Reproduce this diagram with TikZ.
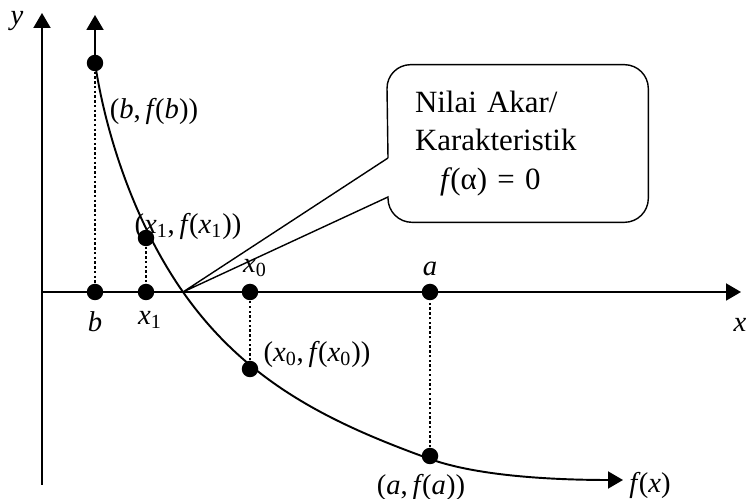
\documentclass[tikz,border=0pt]{standalone}
\usepackage{fontspec}
\setmainfont{Liberation Serif}
\usetikzlibrary{arrows.meta,positioning}

\newcommand{\vr}[1]{\textit{#1}}
\newcommand{\vsub}[2]{\textit{#1}\textsubscript{#2}}
\newcommand{\fof}[1]{\textit{f}\kern-0.06em(#1)}

\begin{document}
\begin{tikzpicture}[x=0.02cm, y=-0.02cm,
    axis/.style={line width=1.1pt, -{Triangle[length=3mm,width=3.4mm]}},
    curve/.style={line width=1.1pt,
      {Triangle[length=3mm,width=3.4mm]}-{Triangle[length=3mm,width=3.4mm]}},
    dot/.style={circle, fill, inner sep=0pt, minimum size=3.3mm},
    drop/.style={line width=1.5pt, dash pattern=on 1.4pt off 1.3pt},
    lbl/.style={font=\fontsize{16.3}{19}\selectfont, inner sep=0pt},
    notebox/.style={font=\fontsize{17.6}{21.8}\selectfont, align=left,
      text width=4.1cm, inner xsep=0.56cm, inner ysep=0pt,
      minimum width=5.18cm, minimum height=3.14cm},
    outline/.style={line width=0.8pt},
  ]
  \useasboundingbox (0,0) rectangle (747,499);

  % Axes
  \coordinate (ybot) at (42,485);
  \coordinate (ytop) at (42,13);
  \coordinate (xleft) at (42,292);
  \coordinate (xright) at (741,292);
  \draw[axis] (ybot) -- (ytop);
  \draw[axis] (xleft) -- (xright);
  \node[lbl] (ylab) at (17,21) {\vr{y}};
  \node[lbl] (xlab) at (740,325) {\vr{x}};

  % Points on the axis and on the curve
  \node[dot] (b0) at (95,292) {};
  \node[dot] (fb) at (95,63) {};
  \node[dot] (xone) at (146,292) {};
  \node[dot] (fxone) at (146,238) {};
  \node[dot] (xzero) at (250,292) {};
  \node[dot] (fxzero) at (250,369) {};
  \node[dot] (a0) at (430,292) {};
  \node[dot] (fa) at (430,456) {};
  \coordinate (root) at (183,292);
  \coordinate (ctop) at (95,15);
  \coordinate (cend) at (623,480);

  % The curve f(x)
  \draw[curve] (ctop) -- (fb.center)
    .. controls (105.5,133) and (134,222) .. (root)
    .. controls (246,382) and (330,423) .. (430,459)
    .. controls (480,477) and (560,480) .. (cend);

  % Dotted drops
  \draw[drop] (fb) -- (b0);
  \draw[drop] (fxone) -- (xone);
  \draw[drop] (fxzero) -- (xzero);
  \draw[drop] (fa) -- (a0);

  % Labels
  \node[lbl] (lb) at (95,322) {\vr{b}};
  \node[lbl] (lxone) at (150,320) {\vsub{x}{1}};
  \node[lbl] (lxzero) at (255,268) {\vsub{x}{0}};
  \node[lbl] (la) at (430,269) {\vr{a}};
  \node[lbl] (lfb) at (154,111) {(\vr{b},\,\fof{\vr{b}})};
  \node[lbl] (lfxone) at (188,226) {(\vsub{x}{1},\,\fof{\vsub{x}{1}})};
  \node[lbl] (lfxzero) at (317,354) {(\vsub{x}{0},\,\fof{\vsub{x}{0}})};
  \node[lbl] (lfa) at (421,487) {(\vr{a},\,\fof{\vr{a}})};
  \node[lbl] (lfx) at (650,485) {\fof{\vr{x}}};

  % Callout
  \node[notebox] (note) at (517.5,143.5)
    {Nilai Akar/\\Karakteristik\\\hspace{0.5cm}\fof{α} = 0};
  \coordinate (pone) at (388,158);
  \coordinate (ptwo) at (388,197);
  \draw[outline] (pone) -- (root) -- (ptwo)
    {[rounded corners=0.48cm] |- (note.south east) |- (note.north west)}
    -- (pone);
\end{tikzpicture}
\end{document}
